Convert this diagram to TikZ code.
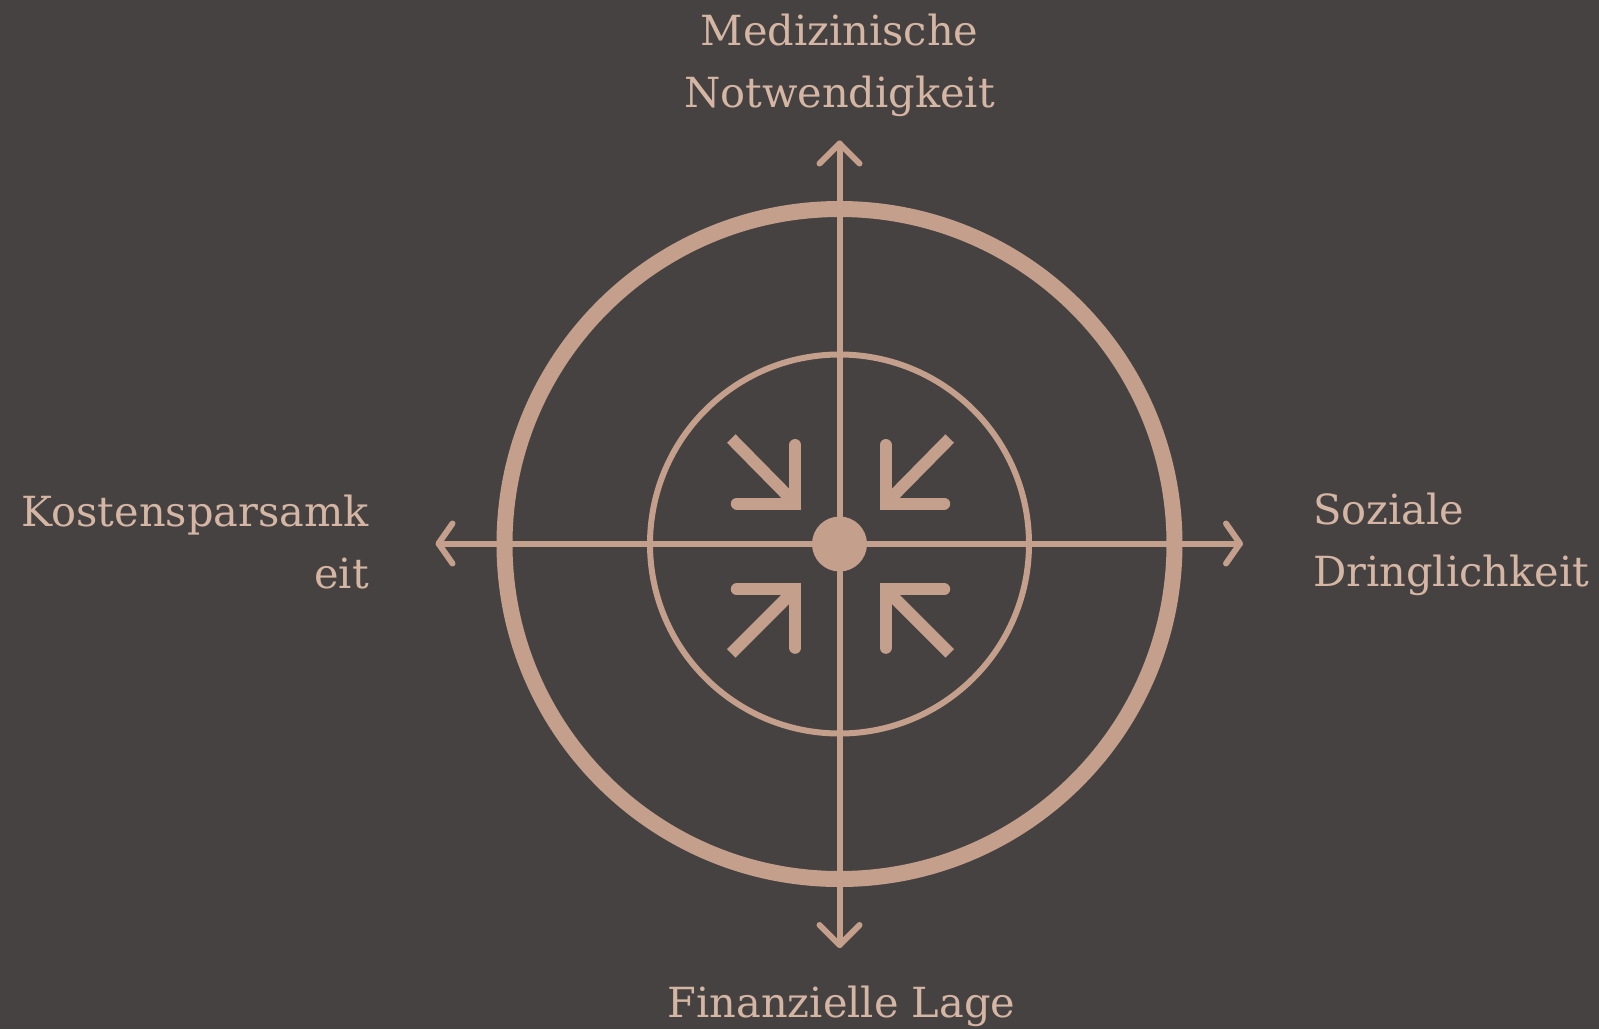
\documentclass[tikz,border=0pt]{standalone}
\usepackage{fontspec}
\setmainfont{DejaVu Serif}
\definecolor{bg}{HTML}{464241}
\definecolor{ink}{HTML}{C49F8B}
\definecolor{txt}{HTML}{D5B6A4}
\begin{document}
\begin{tikzpicture}[x=1pt,y=-1pt,
  axis/.style={draw=ink,line width=6pt,line cap=round,line join=round},
  conv/.style={draw=ink,line width=12pt},
  lbl/.style={text=txt,inner sep=0pt,font=\fontsize{41.5}{62}\selectfont}]
\fill[bg] (0,0) rectangle (1599,1029);
\useasboundingbox (0,0) rectangle (1599,1029);
% key points
\coordinate (C) at (839.5,544);
\coordinate (tipN) at (839.5,143.5);
\coordinate (tipS) at (839.5,945);
\coordinate (tipW) at (438.5,543.5);
\coordinate (tipE) at (1240,543.5);
% axes
\draw[axis] (tipN) -- (tipS);
\draw[axis] (tipW) -- (tipE);
\draw[axis] (tipN) ++(-20,20) -- (tipN) -- ++(20,20);
\draw[axis] (tipS) ++(-20,-20) -- (tipS) -- ++(20,-20);
\draw[axis] (tipW) ++(14,-20) -- (tipW) -- ++(14,20);
\draw[axis] (tipE) ++(-14,-20) -- (tipE) -- ++(-14,20);
% rings
\draw[ink,line width=16pt] (C) circle[radius=335pt];
\draw[ink,line width=6pt] (C) circle[radius=189.5pt];
\fill[ink] (C) circle[radius=27.5pt];
% converging arrows
\coordinate (cTL) at (795.3,503.5);
\coordinate (cTR) at (885.7,503.5);
\coordinate (cBL) at (795.3,589.3);
\coordinate (cBR) at (885.7,589.3);
\draw[conv,line cap=butt] (cTL) ++(-64,-65) -- (cTL);
\draw[conv,line cap=round,line join=miter] (cTL) ++(-58.5,0) -- (cTL) -- ++(0,-58.5);
\draw[conv,line cap=butt] (cTR) ++(64,-65) -- (cTR);
\draw[conv,line cap=round,line join=miter] (cTR) ++(58.5,0) -- (cTR) -- ++(0,-58.5);
\draw[conv,line cap=butt] (cBL) ++(-64,64) -- (cBL);
\draw[conv,line cap=round,line join=miter] (cBL) ++(-58.5,0) -- (cBL) -- ++(0,58.5);
\draw[conv,line cap=butt] (cBR) ++(64,64) -- (cBR);
\draw[conv,line cap=round,line join=miter] (cBR) ++(58.5,0) -- (cBR) -- ++(0,58.5);
% labels
\node[lbl,anchor=base] (north) at (839.5,45) {\parbox[t]{400pt}{\centering Medizinische\\Notwendigkeit}};
\node[lbl,anchor=base] (south) at (841.5,1017.3) {Finanzielle Lage};
\node[lbl,anchor=base east] (west) at (369,526.7) {\parbox[t]{420pt}{\raggedleft Kostensparsamk\\eit}};
\node[lbl,anchor=base west] (east) at (1313,524) {\parbox[t]{320pt}{\raggedright Soziale\\Dringlichkeit}};
\end{tikzpicture}
\end{document}
